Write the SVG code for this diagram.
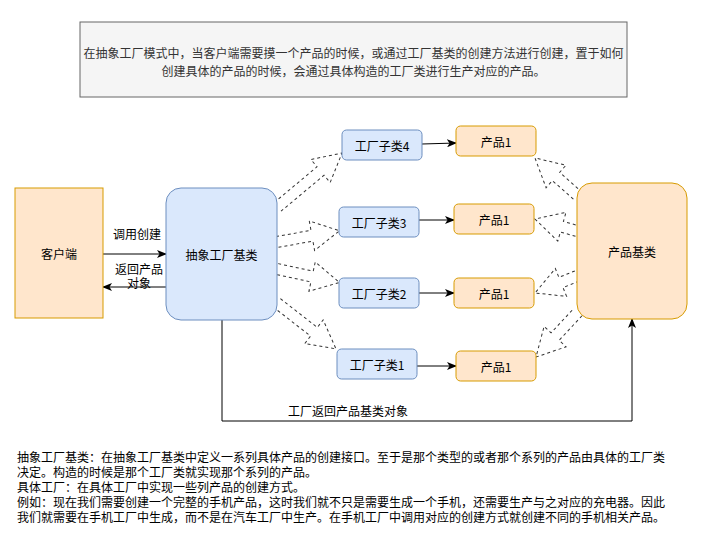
<svg xmlns="http://www.w3.org/2000/svg" width="713" height="545" viewBox="0 0 713 545">
<defs>
<marker id="arr" viewBox="0 0 10 8" refX="9" refY="4" markerWidth="10" markerHeight="8" markerUnits="userSpaceOnUse" orient="auto">
<path d="M0,0 L10,4 L0,8 L2.5,4 z" fill="#000"/>
</marker>
<style>
text{font-family:"Noto Sans CJK SC","Noto Sans",sans-serif;font-size:12px;fill:#000}
.c{text-anchor:middle;dominant-baseline:central}
.blue{fill:#dae8fc;stroke:#6c8ebf;stroke-width:1}
.orange{fill:#ffe6cc;stroke:#d79b00;stroke-width:1}
.flex{fill:none;stroke:#333;stroke-width:1;stroke-dasharray:3 3}
.line{fill:none;stroke:#000;stroke-width:1;marker-end:url(#arr)}
</style>
</defs>
<rect width="713" height="545" fill="#fff"/>

<g id="connectors">
<path class="flex" transform="translate(277.5,207) rotate(-39.9)" d="M0,-5.5 L56.1,-5.5 L56.1,-15 L84.1,0 L56.1,15 L56.1,5.5 L0,5.5"/>
<path class="flex" transform="translate(277,242) rotate(-10.2)" d="M0,-5.5 L35.5,-5.5 L35.5,-15 L63.5,0 L35.5,15 L35.5,5.5 L0,5.5"/>
<path class="flex" transform="translate(277,269) rotate(12.2)" d="M0,-5.5 L35.9,-5.5 L35.9,-15 L63.9,0 L35.9,15 L35.9,5.5 L0,5.5"/>
<path class="flex" transform="translate(277,303) rotate(37.9)" d="M0,-5.5 L46.8,-5.5 L46.8,-15 L74.8,0 L46.8,15 L46.8,5.5 L0,5.5"/>
<path class="flex" transform="translate(577,195) rotate(-138.6)" d="M0,-5.5 L28,-5.5 L28,-15 L56,0 L28,15 L28,5.5 L0,5.5"/>
<path class="flex" transform="translate(577,231) rotate(-164.1)" d="M0,-5.5 L15.7,-5.5 L15.7,-15 L43.7,0 L15.7,15 L15.7,5.5 L0,5.5"/>
<path class="flex" transform="translate(577,276) rotate(158)" d="M0,-5.5 L17.3,-5.5 L17.3,-15 L45.3,0 L17.3,15 L17.3,5.5 L0,5.5"/>
<path class="flex" transform="translate(578,312) rotate(133)" d="M0,-5.5 L33.6,-5.5 L33.6,-15 L61.6,0 L33.6,15 L33.6,5.5 L0,5.5"/>

<path class="line" d="M103,254 L166,254"/>
<path class="line" d="M166,287 L103,287"/>
<path class="line" d="M422,144 L456,143"/>
<path class="line" d="M419,220 L454,220"/>
<path class="line" d="M419,293 L454,293"/>
<path class="line" d="M417,366 L456,366"/>
<path class="line" d="M222,320 L222,421 L632,421 L632,319"/>

<text class="c" x="137" y="233">调用创建</text>
<text class="c" x="139" y="268">返回产品<tspan x="139" dy="14">对象</tspan></text>
<text class="c" x="348" y="410">工厂返回产品基类对象</text>
</g>

<g id="note">
<rect x="80" y="22" width="547" height="75" fill="#f5f5f5" stroke="#666666"/>
<text class="c" x="353.5" y="52" style="fill:#333">在抽象工厂模式中，当客户端需要摸一个产品的时候，或通过工厂基类的创建方法进行创建，置于如何<tspan x="353.5" dy="18">创建具体的产品的时候，会通过具体构造的工厂类进行生产对应的产品。</tspan></text>
</g>

<g id="client">
<rect class="orange" x="15" y="188" width="88" height="130"/>
<text class="c" x="59" y="253">客户端</text>
</g>

<g id="abstract-factory">
<rect class="blue" x="166" y="188" width="111" height="132" rx="15"/>
<text class="c" x="221.5" y="254">抽象工厂基类</text>
</g>

<g id="factory4">
<rect class="blue" x="342" y="130" width="80" height="30" rx="4.5"/>
<text class="c" x="382" y="145">工厂子类4</text>
</g>
<g id="factory3">
<rect class="blue" x="339" y="207" width="80" height="30" rx="4.5"/>
<text class="c" x="379" y="222">工厂子类3</text>
</g>
<g id="factory2">
<rect class="blue" x="339" y="278" width="80" height="30" rx="4.5"/>
<text class="c" x="379" y="293">工厂子类2</text>
</g>
<g id="factory1">
<rect class="blue" x="337" y="349" width="80" height="30" rx="4.5"/>
<text class="c" x="377" y="364">工厂子类1</text>
</g>

<g id="product-a">
<rect class="orange" x="456" y="126" width="80" height="30" rx="4.5"/>
<text class="c" x="496" y="141">产品1</text>
</g>
<g id="product-b">
<rect class="orange" x="454" y="204" width="80" height="30" rx="4.5"/>
<text class="c" x="494" y="219">产品1</text>
</g>
<g id="product-c">
<rect class="orange" x="454" y="278" width="80" height="30" rx="4.5"/>
<text class="c" x="494" y="293">产品1</text>
</g>
<g id="product-d">
<rect class="orange" x="456" y="351" width="80" height="30" rx="4.5"/>
<text class="c" x="496" y="366">产品1</text>
</g>

<g id="product-base">
<rect class="orange" x="577" y="183" width="110" height="136" rx="15"/>
<text class="c" x="632" y="251">产品基类</text>
</g>

<g id="description">
<text x="17" y="462">抽象工厂基类：在抽象工厂基类中定义一系列具体产品的创建接口。至于是那个类型的或者那个系列的产品由具体的工厂类<tspan x="17" dy="15">决定。构造的时候是那个工厂类就实现那个系列的产品。</tspan><tspan x="17" dy="15">具体工厂：在具体工厂中实现一些列产品的创建方式。</tspan><tspan x="17" dy="15">例如：现在我们需要创建一个完整的手机产品，这时我们就不只是需要生成一个手机，还需要生产与之对应的充电器。因此</tspan><tspan x="17" dy="15">我们就需要在手机工厂中生成，而不是在汽车工厂中生产。在手机工厂中调用对应的创建方式就创建不同的手机相关产品。</tspan></text>
</g>
</svg>
